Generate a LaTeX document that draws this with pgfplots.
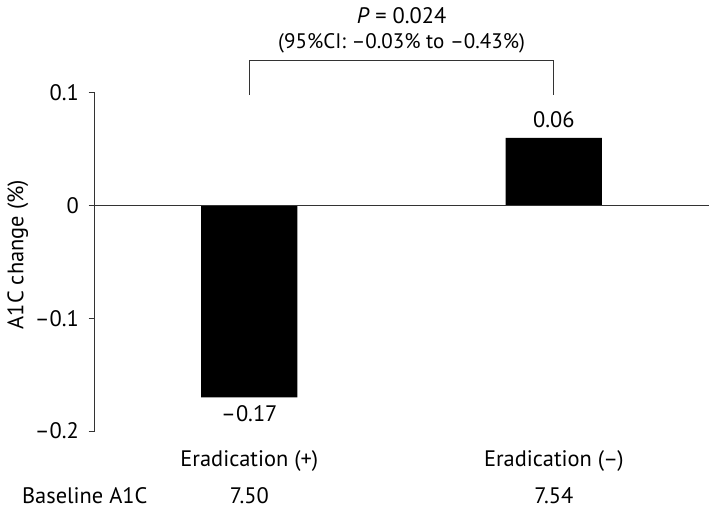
\documentclass[border=0pt]{standalone}
\usepackage{pgfplots}
\pgfplotsset{compat=1.18}
\usepackage{fontspec}
\setmainfont{PT Sans}
\begin{document}
\fontsize{11.3}{13.5}\selectfont
\begin{tikzpicture}
\begin{axis}[
  at={(0pt,0pt)}, anchor=south west,
  scale only axis,
  width=309.5pt, height=170.5pt,
  xmin=0.492, xmax=2.508,
  ymin=-0.2, ymax=0.1,
  clip=false,
  axis y line*=left,
  axis x line*=bottom,
  x axis line style={draw=none},
  y axis line style={line width=0.5pt, draw=black!80},
  ytick={-0.2,-0.1,0,0.1},
  yticklabels={–0.2,–0.1,0,0.1},
  ytick style={line width=0.5pt, draw=black!80},
  tick align=outside,
  major tick length=3pt,
  yticklabel style={xshift=-1pt},
  xtick={1,2},
  xticklabels={Eradication (+),Eradication (–)},
  major x tick style={draw=none},
  xticklabel style={anchor=center, yshift=-12pt},
  ylabel={A1C change (\%)},
  ylabel style={at={(axis description cs:-0.125,0.522)}, anchor=center, rotate=0},
  ybar, bar width=48.5pt,
]
\addplot[fill=black, draw=none] coordinates {(1,-0.17) (2,0.06)};
\draw[line width=0.5pt, black!80] (axis cs:0.492,0) -- (axis cs:2.508,0);
\draw[line width=0.5pt, black!80] (axis cs:1,0.098) -- (axis cs:1,0.129) -- (axis cs:2,0.129) -- (axis cs:2,0.098);
\node at (axis cs:1.5,0.1686) {\textit{P} = 0.024};
\node at (axis cs:1.5,0.144) {\fontsize{10.6}{12.6}\selectfont (95\%CI: –0.03\% to –0.43\%)};
\node at (axis cs:2,0.076) {0.06};
\node at (axis cs:1,-0.1845) {–0.17};
\node[anchor=west] at (axis cs:0.228,-0.257) {Baseline A1C};
\node at (axis cs:1,-0.257) {7.50};
\node at (axis cs:2,-0.257) {7.54};
\end{axis}
\path (-45pt,-40.5pt) rectangle (309.5pt,216.5pt);
\end{tikzpicture}
\end{document}
